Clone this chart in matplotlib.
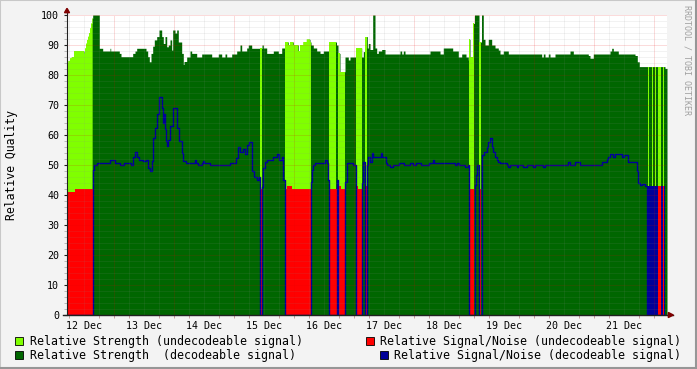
import numpy as np
import matplotlib
matplotlib.use("Agg")
import matplotlib.pyplot as plt
from matplotlib.patches import Rectangle, Polygon
from matplotlib.lines import Line2D

plt.rcParams['font.family'] = ['DejaVu Sans Mono']

# RRD step: one sample every 24 min, first sample 12 Dec 05:12
START_H = 5.2      # hours after 12 Dec 00:00
STEP_H = 0.4
N_STEPS = 600

day_labels = ['12 Dec', '13 Dec', '14 Dec', '15 Dec', '16 Dec',
              '17 Dec', '18 Dec', '19 Dec', '20 Dec', '21 Dec']

# relative strength (top of the green area), step series: sample index -> value
strength_idx = [0, 1.3, 3, 4.7, 7, 17, 18, 19, 20, 21, 22, 23, 24, 25, 25.7,
                32.3, 35.7, 43, 43.7, 52.3, 54, 65.7, 68, 69.7, 79, 80.7, 82.3,
                84, 85.7, 87.3, 89.7, 92, 94.7, 96.3, 98, 99.7, 101.3, 103,
                104.7, 105.7, 108, 109.7, 111.3, 114.7, 116.3, 117, 119.7, 123,
                124.7, 129.7, 134.7, 144.7, 151.3, 154.7, 158, 159.7, 164.7,
                169.7, 173, 174.7, 179.7, 181.3, 184.7, 195, 196.3, 199.7,
                206.3, 211.3, 214.7, 218, 221.3, 223, 226.3, 231.3, 233, 236.3,
                239.7, 243, 244, 246.3, 249.7, 253, 256.3, 262, 269.5, 271, 273,
                278, 281.3, 283, 289, 294.7, 296.3, 298, 300.3, 301.3, 303,
                305.7, 308, 309.7, 311.3, 314.7, 318, 333, 334.7, 336.3, 338,
                363, 373, 376.3, 385.7, 391.3, 394.7, 399, 401.3, 402, 403, 406,
                407.5, 412, 414.5, 416.3, 418, 421.3, 424.7, 428, 431.3, 433,
                436.3, 441.3, 474.7, 476.3, 478, 481.3, 483, 488, 503, 506.3,
                521.3, 523, 526.3, 543, 544.7, 546.3, 551.3, 568, 570.3, 572.3,
                598]
strength_val = [84, 84.7, 85.6, 86, 88, 87.2, 88.9, 90.5, 91.7, 92.8, 94, 95.6,
                97.2, 98.9, 100, 88.9, 88, 88.9, 88, 87.2, 86.1, 87.2, 88, 88.9,
                88, 86.1, 84.4, 87.2, 89.6, 91.7, 92.8, 95, 92.8, 90.5, 92.8,
                89.4, 90, 91.7, 88.3, 95, 94, 95, 91, 87.2, 83.5, 84.5, 86, 88,
                87.2, 86, 87, 86, 87, 86, 87, 86, 87, 88, 90, 88, 89, 90, 88.9,
                90, 89, 87.2, 88, 87.2, 89, 91, 90, 91, 90, 88, 90, 91, 91.9, 91,
                90, 89, 88, 87.2, 88, 91, 90, 87.2, 81.1, 86, 85, 86, 89, 86,
                87.8, 92.8, 89, 90.5, 88.5, 100, 89, 87.2, 88, 88.5, 87, 88, 87,
                88, 87, 88, 87, 89, 88, 86, 87, 86, 85, 91.9, 85.9, 97.2, 100,
                91, 100, 91.9, 90, 91.9, 90, 89, 88.3, 87, 88, 87, 86, 87, 86,
                87, 86, 87, 88, 87, 86.5, 85.6, 87, 88, 88.9, 88, 87, 86.5, 84.4,
                82.8, 82.2]

# sample spans where the signal could not be decoded
undec_spans = [(0, 25.7), (193, 194.7), (218, 244), (262, 269.5), (271, 278),
               (289, 294.7), (298, 300.3), (402, 407.5), (412, 414.5),
               (581, 582), (584.7, 585.7), (588, 589), (591.3, 593.7),
               (595.7, 597.5)]

# relative signal/noise while undecodeable: (start, end, level)
snr_undec = [(0, 8, 41.1), (8, 25.7, 42), (193, 194.7, 42), (218, 219.7, 42),
             (219.7, 224.7, 43), (224.7, 244, 42), (262, 269.5, 42),
             (271, 273.7, 43), (273.7, 278, 42), (289, 291.3, 43),
             (291.3, 294.7, 42), (298, 300.3, 43), (402.5, 406.5, 42),
             (412, 414, 42), (591.3, 593.7, 43), (595.7, 597, 43)]

# relative signal/noise while decodeable (0 while undecodeable)
snr_idx = [0, 25.7, 26.3, 27.3, 30.3, 43, 48, 53, 57, 63.7, 65.7, 68, 70.3,
           72.3, 75.7, 79, 81.3, 82.5, 84.7, 86.3, 88, 89.7, 92.3, 94.7, 96.3,
           97, 98, 99, 100.3, 101.3, 103, 105.7, 110.3, 112.3, 114.7, 116.3,
           119, 128, 128.7, 131.3, 134.7, 136, 136.7, 143, 163, 169, 171.3,
           173, 175.7, 178, 180.3, 182.3, 184.7, 187, 189.7, 192.3, 193, 194.7,
           195.7, 196.3, 198, 199.7, 206.3, 209.7, 212.3, 214.7, 216.3, 218,
           244, 244.7, 246.3, 248, 258, 259.7, 261.3, 262, 269.5, 271, 278,
           280.3, 286, 289, 294.7, 296, 298, 300.3, 301.3, 303, 304.7, 306.3,
           313.7, 315.3, 318.7, 320.3, 323, 325.7, 332.3, 337.3, 343, 346.3,
           348.7, 353.7, 362.3, 366.3, 367, 388, 389.7, 392.3, 398, 401.3, 402,
           407.5, 408.7, 410.3, 412, 414.5, 415.3, 417.3, 419.7, 421.3, 423,
           424.7, 426.3, 428, 429.7, 431.3, 433, 439.7, 441.3, 443, 449.7,
           451.3, 456.3, 459.7, 466.3, 468, 476.3, 478, 501.3, 503, 508, 513,
           534.7, 539.7, 541.3, 543, 546, 548, 554.7, 556.7, 561.3, 569.7, 571,
           573, 574.7, 578, 580.3]
snr_val = [0, 45.6, 48.3, 50, 50.8, 51.7, 50.8, 50, 50.8, 50, 52.8, 54.4, 52.8,
           51.7, 51.2, 51.7, 49, 48, 51.2, 58.9, 62.2, 66.9, 72.8, 68.9, 64, 67,
           62, 58, 56.5, 58.5, 63, 68.9, 62.5, 58, 53.9, 51.5, 50.8, 51.7, 50.8,
           50, 50.8, 51.5, 50.8, 50, 50.8, 52.2, 56, 54.5, 55.5, 53.8, 56.7,
           57.8, 48, 46, 45, 46, 0, 42.8, 48.3, 48.9, 51, 51.7, 52.8, 53.7, 51.7,
           52.8, 45, 0, 44.4, 48.3, 50, 50.8, 51.7, 50.6, 45, 0, 45, 0, 44.4,
           50.8, 50, 0, 44, 51, 0, 50, 52.8, 51, 53.9, 52.8, 53.9, 52.8, 50.8,
           50, 49.2, 50, 50.8, 50, 50.8, 50, 50.8, 50, 50.8, 51.7, 50.8, 50,
           50.8, 50, 49.2, 50, 0, 43.3, 46.7, 50, 0, 51.7, 53.3, 54.5, 56, 57.8,
           58.9, 56, 54.5, 52.8, 51.7, 51.1, 50.8, 50, 49.2, 50, 49.2, 50, 49.2,
           50, 49.2, 50, 49.2, 50, 50.9, 50, 50.9, 50, 50.9, 52, 52.6, 53.7,
           52.6, 53.7, 52.6, 53.2, 50.9, 48, 44.1, 43.3, 43.7, 43, 0]

# spans where the decodeable signal/noise flips between level and 0 every step
snr_flicker = [(580.3, 591.3, 43), (593.7, 595.7, 43), (597, 598.3, 43)]

LIGHT = '#80ff00'
DARK = '#006600'
RED = '#ff0000'
BLUE = '#000099'


def to_h(i):
    return START_H + np.asarray(i, dtype=float) * STEP_H


fig = plt.figure(figsize=(6.97, 3.69), dpi=100, facecolor='#f3f3f3')
ax = fig.add_axes([67 / 697, 1 - 315 / 369, 600 / 697, 300 / 369])
ax.set_facecolor('white')

# strength: evaluate the step series on a fine grid
tt = np.linspace(0, N_STEPS, N_STEPS * 20 + 1)
pos = np.searchsorted(strength_idx, tt, side='right') - 1
strength = np.array(strength_val)[pos]
undec = np.zeros_like(tt, dtype=bool)
for s, e in undec_spans:
    undec |= (tt >= s) & (tt < e)

ax.fill_between(to_h(tt), 0, strength, step='post', color=DARK, lw=0, zorder=1)
ax.fill_between(to_h(tt), 0, strength, where=undec, step='post',
                color=LIGHT, lw=0, zorder=2)

for s, e, lvl in snr_undec:
    ax.fill_between(to_h([s, e]), 0, lvl, color=RED, lw=0, zorder=3)
for s, e, lvl in snr_flicker:
    ax.fill_between(to_h([s, e]), 0, lvl, color=BLUE, lw=0, zorder=3)

ax.step(to_h(snr_idx + [N_STEPS]), snr_val + [snr_val[-1]], where='post',
        color=BLUE, lw=1.0, zorder=4)

# grid (drawn on top, rrdtool style)
x0, x1 = START_H, START_H + N_STEPS * STEP_H
GRID = (0.55, 0.55, 0.55, 0.22)
MGRID = (0.9, 0, 0, 0.28)
for h in range(6, 246, 6):
    ax.axvline(h, color=MGRID if h % 24 == 0 else GRID, lw=0.72,
               ls=(0, (1, 1)), zorder=5)
for v in range(2, 101, 2):
    ax.axhline(v, color=MGRID if v % 10 == 0 else GRID, lw=0.72,
               ls=(0, (1, 1)), zorder=5)

ax.set_xlim(x0, x1)
ax.set_ylim(0, 100)
for sp in ax.spines.values():
    sp.set_visible(False)

ax.set_yticks(range(0, 101, 10))
ax.set_yticks(range(0, 101, 2), minor=True)
ax.set_xticks(np.arange(12, 240, 24))
ax.set_xticklabels(day_labels)
ax.set_xticks(np.arange(6, 246, 6), minor=True)
ax.tick_params(axis='y', which='major', length=2, width=0.8, color='#202020',
               pad=3.6, labelsize=7.2)
ax.tick_params(axis='y', which='minor', length=2, width=0.6, color='#b0b0b0')
ax.tick_params(axis='x', which='major', length=0, pad=4.4, labelsize=7.2)
ax.tick_params(axis='x', which='minor', length=2, width=0.6, color='#c09090')

# axis lines with arrows
ax.add_line(Line2D([-4 / 600, 1.0105], [0, 0], transform=ax.transAxes,
                   color='#202020', lw=1.0, clip_on=False, zorder=6))
ax.add_line(Line2D([0, 0], [0, 1.02], transform=ax.transAxes,
                   color='#202020', lw=0.8, clip_on=False, zorder=6))
ax.add_patch(Polygon([[1.0022, -0.0085], [1.0022, 0.0085], [1.0105, 0]],
                     closed=True, transform=ax.transAxes, color='#7f0000',
                     clip_on=False, zorder=7))
ax.add_patch(Polygon([[-0.0042, 1.0077], [0.0042, 1.0077], [0, 1.0223]],
                     closed=True, transform=ax.transAxes, color='#7f0000',
                     clip_on=False, zorder=7))

fig.text(12 / 697, 1 - 165 / 369, 'Relative Quality', rotation=90,
         ha='center', va='center', fontsize=8.3)
fig.text(686.5 / 697, 1 - 5 / 369, 'RRDTOOL / TOBI OETIKER', rotation=270,
         ha='center', va='top', fontsize=6, color='#a0a0a0')

# legend
legend = [
    (15, 341, 30, LIGHT, 'Relative Strength (undecodeable signal)'),
    (15, 355, 30, DARK, 'Relative Strength  (decodeable signal)'),
    (366, 341, 380, RED, 'Relative Signal/Noise (undecodeable signal)'),
    (380, 355, 394, BLUE, 'Relative Signal/Noise (decodeable signal)'),
]
for bx, by, tx, col, lab in legend:
    fig.patches.append(Rectangle((bx / 697, 1 - (by + 4) / 369), 8 / 697, 8 / 369,
                                 transform=fig.transFigure, facecolor=col,
                                 edgecolor='black', lw=0.6))
    fig.text(tx / 697, 1 - by / 369, lab, ha='left', va='center', fontsize=8.4)

# frame shading
fig.add_artist(Line2D([0, 1], [1, 1], transform=fig.transFigure, color='#c8c8c8', lw=1.5))
fig.add_artist(Line2D([0, 0], [0, 1], transform=fig.transFigure, color='#c8c8c8', lw=1.5))
fig.add_artist(Line2D([0, 1], [0.004, 0.004], transform=fig.transFigure, color='#969696', lw=1.5))
fig.add_artist(Line2D([0.998, 0.998], [0, 1], transform=fig.transFigure, color='#969696', lw=1.5))

fig.savefig('out.png', dpi=100, facecolor=fig.get_facecolor())
